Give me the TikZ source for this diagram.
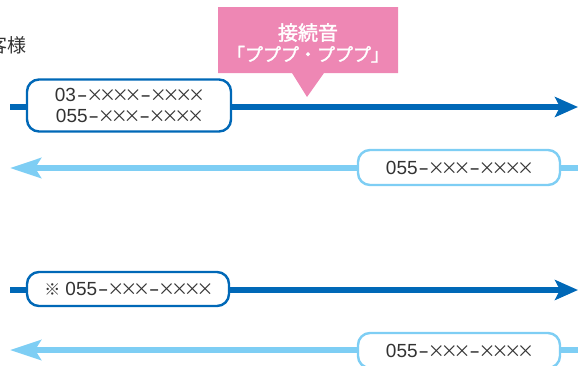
\documentclass[tikz,border=0pt]{standalone}
\usepackage{fontspec}
\usepackage{graphicx}
\setmainfont{Noto Sans CJK JP}
\newfontfamily\numfont{Liberation Sans}
\newfontfamily\cjkfont{Noto Sans CJK JP}
\newfontfamily\cjkbold[FakeBold=1.8]{Noto Sans CJK JP}
\newcommand\Xm{{\cjkfont\fontsize{17}{17}\selectfont\kern-2.1pt×\kern-2.1pt}}
\newcommand\Hy{\kern0.8pt\scalebox{1.7}[1]{-}\kern0.8pt}
\usetikzlibrary{arrows.meta}
\definecolor{dblue}{HTML}{0068B7}
\definecolor{lblue}{HTML}{7ECEF4}
\definecolor{pinkc}{HTML}{EE87B4}
\definecolor{txt}{HTML}{333333}
\tikzset{
  numbox/.style={draw, fill=white, rounded corners=12pt, line width=2.4pt, inner sep=0pt, align=center, text=txt, font=\numfont\fontsize{19}{21.5}\selectfont},
  darkbox/.style={numbox, draw=dblue},
  lightbox/.style={numbox, draw=lblue},
  darkarrow/.style={dblue, line width=5.5pt, -{Stealth[length=23pt,width=20pt,inset=5pt]}},
  lightarrow/.style={lblue, line width=5.5pt, -{Stealth[length=31pt,width=20pt,inset=6pt]}},
}
\begin{document}
\begin{tikzpicture}[x=1pt,y=-1pt]
\useasboundingbox (0,0) rectangle (578,365);
\clip (0,0) rectangle (578,365);
% arrows
\coordinate (a1s) at (10,107); \coordinate (a1e) at (578,107);
\coordinate (a2s) at (578,168); \coordinate (a2e) at (10,168);
\coordinate (a3s) at (10,290); \coordinate (a3e) at (578,290);
\coordinate (a4s) at (578,350); \coordinate (a4e) at (10,350);
\draw[darkarrow] (a1s) -- (a1e);
\draw[lightarrow] (a2s) -- (a2e);
\draw[darkarrow] (a3s) -- (a3e);
\draw[lightarrow] (a4s) -- (a4e);
% boxes
\node[darkbox, minimum width=204pt, minimum height=52pt] (b1) at (129,105.5) {03\Hy\Xm\Xm\Xm\Xm\Hy\Xm\Xm\Xm\Xm\\055\Hy\Xm\Xm\Xm\Hy\Xm\Xm\Xm\Xm};
\node[lightbox, minimum width=202pt, minimum height=35pt] (b2) at (459,167.5) {055\Hy\Xm\Xm\Xm\Hy\Xm\Xm\Xm\Xm};
\node[darkbox, minimum width=202pt, minimum height=34pt] (b3) at (128,289) {{\cjkfont\fontsize{16}{16}\selectfont ※}\kern5pt 055\Hy\Xm\Xm\Xm\Hy\Xm\Xm\Xm\Xm};
\node[lightbox, minimum width=202pt, minimum height=35pt] (b4) at (459,350.5) {055\Hy\Xm\Xm\Xm\Hy\Xm\Xm\Xm\Xm};
% callout
\fill[pinkc] (218,7) -- (398,7) -- (398,73) -- (324,73) -- (307,97) -- (292,73) -- (218,73) -- cycle;
\node[text=white, font=\cjkbold\fontsize{18}{26}\selectfont, align=center, inner sep=0pt] (call) at (308,43) {{\fontsize{20}{26}\selectfont 接続音}\\[-5pt]「プププ・プププ」};
% label
\node[anchor=east, text=txt, font=\fontsize{19}{22}\selectfont, inner sep=0pt] (who) at (27,45) {お客様};
\end{tikzpicture}
\end{document}
